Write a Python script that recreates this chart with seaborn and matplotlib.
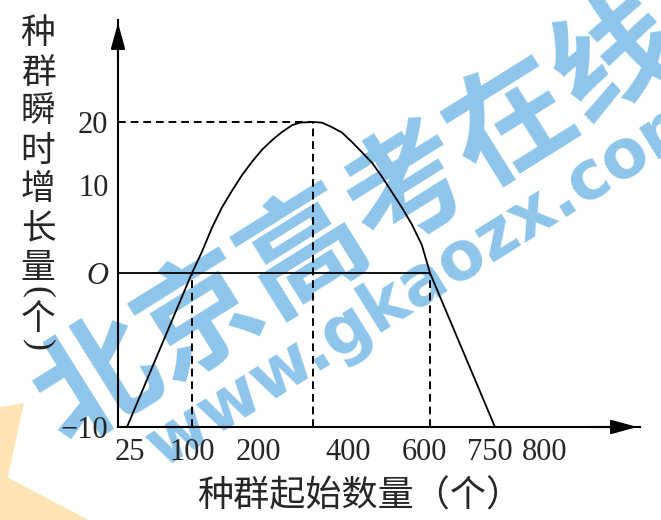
import matplotlib
matplotlib.use("Agg")
import matplotlib.pyplot as plt
import matplotlib.transforms as mtransforms
from matplotlib.patches import Polygon
from matplotlib.scale import FuncScale
import numpy as np
import seaborn as sns

# values
x_ticks = [25, 100, 200, 400, 600, 750, 800]
y_ticks = [-10, 0, 10, 20]
y_tick_labels = ["−10", "O", "10", "20"]
start_size = [25, 100, 115, 130, 145, 161, 176, 191, 209, 231, 253, 276, 293,
              322, 342, 364, 387, 410, 434, 459, 483, 507, 532, 556, 580,
              600, 750]
growth = [-10, 0, 2.4, 5.1, 7.4, 9.4, 11.6, 13.7, 15.6, 17.1, 18.4, 19.5, 19.9,
          20, 19.9, 19.2, 18.3, 16.8, 15.2, 13.5, 11.3, 9.2, 7.4, 5.5, 3.2,
          0, -10]
y_label_chars = ["种", "群", "瞬", "时", "增", "长", "量"]
x_label = "种群起始数量（个）"

# the axes are schematic (not to scale): where each value sits, in pixels
X_KNOTS = [0, 25, 100, 200, 400, 600, 750, 800, 1000]
X_PIX = [105.3, 127, 192, 258, 348, 430, 495, 525, 645]
Y_KNOTS = [-10, 0, 10, 20, 40]
Y_PIX = [427, 273, 185, 122, -4]

W, H = 661, 520

sns.set_theme(style="white")
plt.rcParams['font.family'] = ['Liberation Serif', 'Noto Sans CJK SC', 'DejaVu Sans']

fig = plt.figure(figsize=(W / 100, H / 100), dpi=100)
fig.patch.set_facecolor("white")

# watermark layers behind the chart
fig.patches.append(Polygon([[0, 112 / H], [23 / W, 116 / H], [7 / W, 42 / H],
                            [87 / W, 0], [0, 0]], closed=True,
                           transform=fig.transFigure, color="#fde4b4",
                           zorder=-2))
fig.text(358 / W, 1 - 222 / H, "北京高考在线", rotation=32, rotation_mode="anchor",
         ha="center", va="center", fontsize=88, fontweight="heavy",
         color="#8ec5ea", family=["Noto Sans CJK SC"], zorder=-1)
fig.text(428 / W, 1 - 280 / H, "www.gkaozx.com", rotation=32,
         rotation_mode="anchor", ha="center", va="center", fontsize=48,
         fontweight="bold", color="#8ec5ea", family=["DejaVu Sans"], zorder=-1)

ax = fig.add_axes([118 / W, 1 - 427 / H, (640 - 118) / W, (427 - 20) / H])
ax.patch.set_visible(False)


def fx(v):
    return np.interp(v, X_KNOTS, X_PIX)


def fx_inv(p):
    return np.interp(p, X_PIX, X_KNOTS)


def fy(v):
    return np.interp(v, Y_KNOTS, -np.array(Y_PIX))


def fy_inv(p):
    return np.interp(p, -np.array(Y_PIX), Y_KNOTS)


ax.set_xscale(FuncScale(ax.xaxis, (fx, fx_inv)))
ax.set_yscale(FuncScale(ax.yaxis, (fy, fy_inv)))
ax.set_xlim(fx_inv(118), fx_inv(640))
ax.set_ylim(-10, fy_inv(-20))

sns.lineplot(x=start_size, y=growth, ax=ax, color="black", lw=1.3,
             sort=False, estimator=None)

peak = int(np.argmax(growth))
peak_x, peak_y = start_size[peak], growth[peak]
left = ax.get_xlim()[0]
dash = (0, (4, 2.5))
ax.hlines(peak_y, left, peak_x, colors="black", lw=1.4, linestyles=dash)
ax.vlines(peak_x, -10, peak_y, colors="black", lw=1.4, linestyles=dash)
ax.vlines([100, 600], -10, 0, colors="black", lw=1.4, linestyles=dash)
ax.hlines(0, left, 600, colors="black", lw=1.3)

for side in ["top", "right"]:
    ax.spines[side].set_visible(False)
for side in ["left", "bottom"]:
    ax.spines[side].set_linewidth(1.5)
    ax.spines[side].set_color("black")

ax.annotate("", xy=(0, 1), xycoords="axes fraction", xytext=(0, 0.9),
            arrowprops=dict(arrowstyle="-|>,head_length=0.8,head_width=0.22",
                            color="black", lw=1.5, mutation_scale=20))
ax.annotate("", xy=(1, 0), xycoords="axes fraction", xytext=(0.9, 0),
            arrowprops=dict(arrowstyle="-|>,head_length=0.8,head_width=0.22",
                            color="black", lw=1.5, mutation_scale=20))

ax.set_xticks(x_ticks)
ax.set_xticklabels([str(v) for v in x_ticks])
ax.set_yticks(y_ticks)
ax.set_yticklabels(y_tick_labels)
ax.tick_params(axis="x", which="major", length=0, pad=8, labelsize=22)
ax.tick_params(axis="y", which="major", length=0, pad=7, labelsize=22)
ax.yaxis.get_ticklabels()[1].set_fontstyle("italic")

ax.xaxis.remove_overlapping_locs = False
ax.yaxis.remove_overlapping_locs = False
ax.set_xticks([200, 400, 800], minor=True)
ax.set_yticks([10], minor=True)
ax.tick_params(axis="x", which="minor", direction="in", length=4, width=1.4,
               color="black")
ax.tick_params(axis="y", which="minor", direction="in", length=7, width=1.4,
               color="black")

# the printed labels sit a little off their marks
shifts = {"25": 3, "600": -6, "750": -5, "800": 20}
for lab in ax.get_xticklabels():
    dx = shifts.get(lab.get_text(), 0)
    if dx:
        lab.set_transform(lab.get_transform() + mtransforms.ScaledTranslation(
            dx / 100, 0, fig.dpi_scale_trans))

cjk = ["Noto Sans CJK SC", "DejaVu Sans"]
for i, ch in enumerate(y_label_chars):
    fig.text(38 / W, 1 - (34 + 39 * i) / H, ch, ha="center", va="center",
             fontsize=25, family=cjk)
# vertical "(个)": brackets turned on their side
fig.text(38 / W, 1 - 292 / H, "(", rotation=270, ha="center", va="center",
         fontsize=26, family=["Liberation Serif"])
fig.text(38 / W, 1 - 319 / H, "个", ha="center", va="center", fontsize=25,
         family=cjk)
fig.text(38 / W, 1 - 345 / H, ")", rotation=270, ha="center", va="center",
         fontsize=26, family=["Liberation Serif"])
fig.text(360 / W, 1 - 497 / H, x_label, ha="center", va="center", fontsize=26,
         family=cjk)

fig.savefig("out.png", dpi=100)
